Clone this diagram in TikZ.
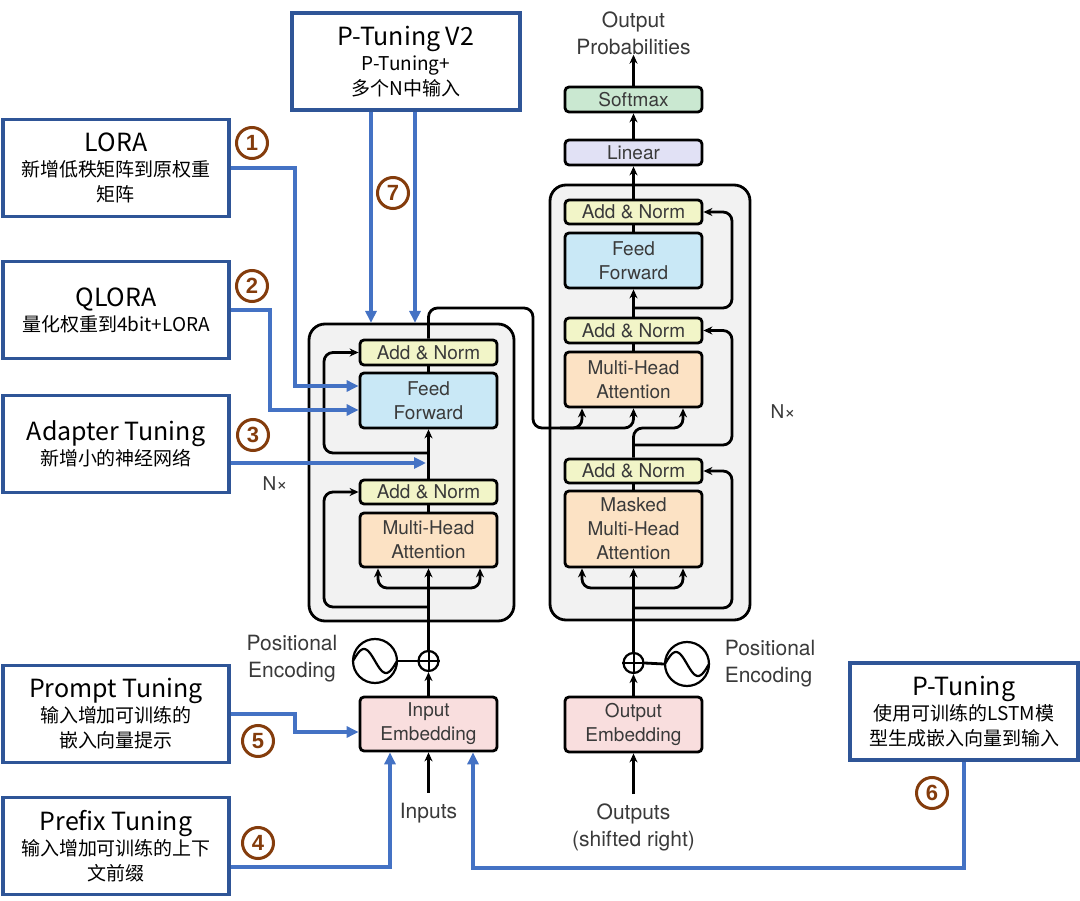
\documentclass[tikz,border=0pt]{standalone}
\usepackage{fontspec}
\usetikzlibrary{arrows.meta,calc}
\newfontfamily\cjk{Noto Sans CJK SC}
\newfontfamily\hv{TeX Gyre Heros}
\newfontfamily\numf{Liberation Sans}
\definecolor{boxblue}{HTML}{2F5597}
\definecolor{lineblue}{HTML}{4472C4}
\definecolor{numbrown}{HTML}{843C0C}
\definecolor{annorm}{HTML}{F2F5C8}
\definecolor{ffblue}{HTML}{C9E8F6}
\definecolor{mhaor}{HTML}{FCE2C4}
\definecolor{embpink}{HTML}{F9DEDE}
\definecolor{linlav}{HTML}{E1E1F5}
\definecolor{smgreen}{HTML}{CAE8D1}
\definecolor{outergray}{HTML}{F2F2F2}
\definecolor{tgray}{HTML}{3A3A3A}
\newcommand\boxtitle[1]{{\fontsize{25}{25}\selectfont #1}}
\begin{document}
\begin{tikzpicture}[x=1pt,y=-1pt,
 tbox/.style={draw=black, line width=2.8pt, rounded corners=4pt, minimum width=137pt, inner sep=0pt, align=center, text=tgray, font=\hv\fontsize{19}{24}\selectfont},
 obox/.style={draw=black, line width=2.8pt, rounded corners=16pt, fill=outergray, inner sep=0pt},
 pbox/.style={draw=boxblue, line width=3.8pt, fill=white, minimum width=226pt, minimum height=97pt, align=center, inner sep=0pt, font=\cjk\fontsize{19}{25}\selectfont},
 bl/.style={draw=lineblue, line width=3.4pt, -{Triangle[length=12pt,width=11pt]}},
 ar/.style={draw=black, line width=2.8pt, -{Stealth[length=9pt,width=8pt]}, rounded corners=9pt},
 ln/.style={draw=black, line width=2.8pt},
 num/.style={circle, draw=numbrown, line width=3pt, minimum size=31pt, inner sep=0pt, text=numbrown, font=\numf\bfseries\fontsize{22}{22}\selectfont},
 lbl/.style={text=tgray, font=\hv\fontsize{21}{27}\selectfont, align=center, inner sep=0pt}
]
\fill[white] (0,0) rectangle (1080,901);
\useasboundingbox (0,0) rectangle (1080,901);

% outer boxes
\node[obox, minimum width=205pt, minimum height=297pt] (encbox) at (411.5,472.5) {};
\node[obox, minimum width=200pt, minimum height=435pt] (decbox) at (650,402.5) {};

% encoder nodes
\node[tbox, fill=annorm, minimum height=25pt] (encAN2) at (428.5,352.5) {Add \& Norm};
\node[tbox, fill=ffblue, minimum height=55pt] (encFF) at (428.5,400.5) {Feed\\Forward};
\node[tbox, fill=annorm, minimum height=24pt] (encAN1) at (428.5,492) {Add \& Norm};
\node[tbox, fill=mhaor, minimum height=54pt] (encMHA) at (428.5,540) {Multi-Head\\Attention};
\node[tbox, fill=embpink, minimum height=54pt] (inEmb) at (428.5,724) {Input\\Embedding};

% decoder nodes
\node[tbox, fill=smgreen, minimum height=25pt] (softmax) at (633.5,99.5) {Softmax};
\node[tbox, fill=linlav, minimum height=25pt] (linear) at (633.5,152.5) {Linear};
\node[tbox, fill=annorm, minimum height=24pt] (decAN3) at (633.5,212) {Add \& Norm};
\node[tbox, fill=ffblue, minimum height=55pt] (decFF) at (633.5,260.5) {Feed\\Forward};
\node[tbox, fill=annorm, minimum height=25pt] (decAN2) at (633.5,330.5) {Add \& Norm};
\node[tbox, fill=mhaor, minimum height=55pt] (decMHA) at (633.5,379.5) {Multi-Head\\Attention};
\node[tbox, fill=annorm, minimum height=24pt] (decAN1) at (633.5,471) {Add \& Norm};
\node[tbox, fill=mhaor, minimum height=76pt] (decMMHA) at (633.5,529) {Masked\\Multi-Head\\Attention};
\node[tbox, fill=embpink, minimum height=55pt] (outEmb) at (633.5,724.5) {Output\\Embedding};

% labels
\node[lbl] (outprob) at (633.5,33) {Output\\Probabilities};
\node[lbl] (inputs) at (428.5,813) {Inputs};
\node[lbl] (outputs) at (633.5,827) {Outputs\\(shifted right)};
\node[lbl] (encPE) at (292,659) {Positional\\Encoding};
\node[lbl, align=left] (decPE) at (770,664) {Positional\\Encoding};
\node[lbl, font=\hv\fontsize{19}{19}\selectfont] (nxEnc) at (275,484) {N×};
\node[lbl, font=\hv\fontsize{19}{19}\selectfont] (nxDec) at (783,412) {N×};

% positional encodings
\node[circle, draw, line width=2.2pt, minimum size=20pt, inner sep=0pt] (encPlus) at (428.5,661) {};
\draw[line width=2pt] (encPlus.north) -- (encPlus.south) (encPlus.west) -- (encPlus.east);
\node[circle, draw, line width=2.2pt, minimum size=44pt, inner sep=0pt] (encSine) at (375,661) {};
\draw[line width=2.2pt] plot[domain=-22:22, samples=40, smooth] ({375+\x},{661+12*sin(\x/22*180)});
\node[circle, draw, line width=2.2pt, minimum size=20pt, inner sep=0pt] (decPlus) at (633.5,663) {};
\draw[line width=2pt] (decPlus.north) -- (decPlus.south) (decPlus.west) -- (decPlus.east);
\node[circle, draw, line width=2.2pt, minimum size=44pt, inner sep=0pt] (decSine) at (687,664) {};
\draw[line width=2.2pt] plot[domain=-22:22, samples=40, smooth] ({687+\x},{664+12*sin(\x/22*180)});

% encoder connectors
\draw[ar] ([yshift=10pt]inputs.north) -- (inEmb.south);
\draw[ar] (inEmb.north) -- (encPlus.south);
\draw[ln] (encSine.east) -- (encPlus.west);
\draw[ar] (encPlus.north) -- (encMHA.south);
\draw[ar] (428.5,588) -| ([xshift=-50.5pt]encMHA.south);
\draw[ar] (428.5,588) -| ([xshift=51.5pt]encMHA.south);
\draw[ar] (428.5,607) -| (324,492) -- (encAN1.west);
\draw[ln] (encMHA.north) -- (encAN1.south);
\draw[ar] (encAN1.north) -- (encFF.south);
\draw[ar] (428.5,453) -| (324,352.5) -- (encAN2.west);
\draw[ln] (encFF.north) -- (encAN2.south);
\draw[ar] (encAN2.north) -- (428.5,308) -- (533,308) -- (533,428) -- (582,428) -- ([xshift=-51.5pt]decMHA.south);
\draw[ar] (560,428) -| (decMHA.south);

% decoder connectors
\draw[ar] ([yshift=9pt]outputs.north) -- (outEmb.south);
\draw[ar] (outEmb.north) -- (decPlus.south);
\draw[ln] (decSine.west) -- (decPlus.east);
\draw[ar] (decPlus.north) -- (decMMHA.south);
\draw[ar] (633.5,588) -| ([xshift=-51.5pt]decMMHA.south);
\draw[ar] (633.5,588) -| ([xshift=49.5pt]decMMHA.south);
\draw[ar] (633.5,608) -| (732,471) -- (decAN1.east);
\draw[ln] (decMMHA.north) -- (decAN1.south);
\draw[ar] (decAN1.north) -- (633.5,428) -- (683,428) -- ([xshift=49.5pt]decMHA.south);
\draw[ar] (633.5,445) -| (732,330.5) -- (decAN2.east);
\draw[ln] (decMHA.north) -- (decAN2.south);
\draw[ar] (decAN2.north) -- (decFF.south);
\draw[ar] (633.5,308) -| (732,212) -- (decAN3.east);
\draw[ln] (decFF.north) -- (decAN3.south);
\draw[ar] (decAN3.north) -- (linear.south);
\draw[ar] (linear.north) -- (softmax.south);
\draw[ar] (softmax.north) -- (outprob.south);

% method boxes
\node[pbox] (lora) at (116,168) {\boxtitle{LORA}\\新增低秩矩阵到原权重\\矩阵};
\node[pbox] (qlora) at (116,310) {\boxtitle{QLORA}\\量化权重到4bit+LORA};
\node[pbox] (adapter) at (116,444) {\boxtitle{Adapter Tuning}\\新增小的神经网络};
\node[pbox] (prompt) at (116,714) {\boxtitle{Prompt Tuning}\\输入增加可训练的\\嵌入向量提示};
\node[pbox] (prefix) at (116,846) {\boxtitle{Prefix Tuning}\\输入增加可训练的上下\\文前缀};
\node[pbox, minimum width=228pt] (ptv2) at (406,61.5) {\boxtitle{P-Tuning V2}\\P-Tuning+\\多个N中输入};
\node[pbox, minimum width=228pt] (ptun) at (964,711.5) {\boxtitle{P-Tuning}\\使用可训练的LSTM模\\型生成嵌入向量到输入};

% blue connectors
\coordinate (adpt) at (426,463);
\draw[bl] (lora.east) -- (295,168) -- (295,386) -- ([yshift=14.5pt]encFF.west);
\draw[bl] (qlora.east) -- (270,310) -- (270,410) -- ([yshift=-9.5pt]encFF.west);
\draw[bl] ([yshift=-19pt]adapter.east) -- (adpt);
\draw[bl] ([xshift=-35pt]ptv2.south) -- ++(0,211);
\draw[bl] ([xshift=9pt]ptv2.south) -- ++(0,211);
\draw[bl] (prompt.east) -- (295,714) -- (295,732) -- ([yshift=-8pt]inEmb.west);
\draw[bl] ([yshift=-21pt]prefix.east) -- (390,867) -- ([xshift=-38.5pt]inEmb.south);
\draw[bl] (ptun.south) -- (964,868) -- (473,868) -- ([xshift=44.5pt]inEmb.south);

% numbers
\node[num] (n1) at (252,143) {1};
\node[num] (n2) at (252,286) {2};
\node[num] (n3) at (253,435) {3};
\node[num] (n7) at (393,193) {7};
\node[num] (n5) at (258,741) {5};
\node[num] (n4) at (258,843) {4};
\node[num] (n6) at (932,793) {6};
\end{tikzpicture}
\end{document}
